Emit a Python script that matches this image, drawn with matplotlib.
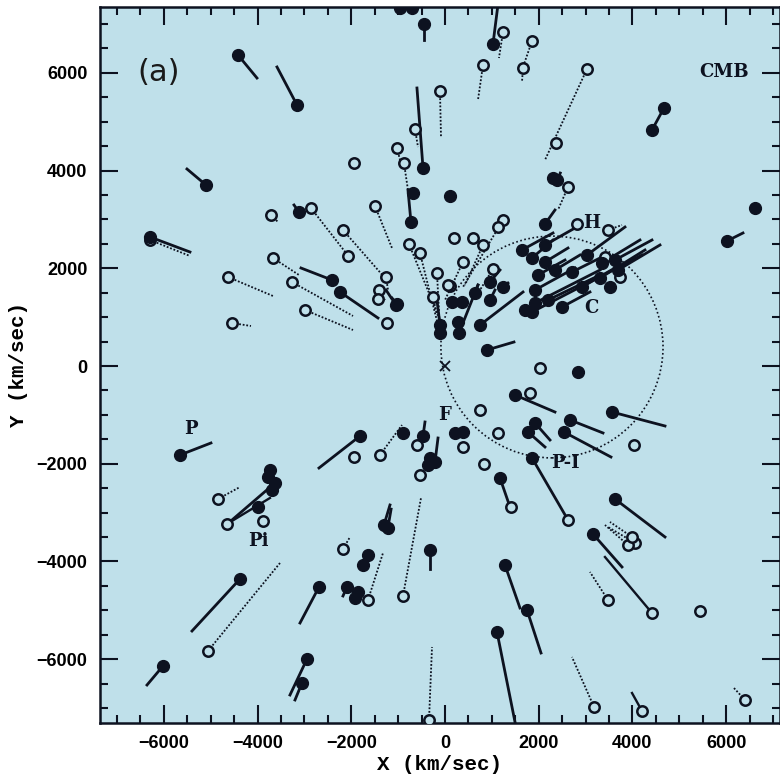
import matplotlib
matplotlib.use("Agg")
import matplotlib.pyplot as plt
from matplotlib.patches import Ellipse
from matplotlib.ticker import MultipleLocator

# galaxies with solid vectors (filled circles), km/sec
filled_x = [-4417, -3158, -5100, -6295, -3116, -2411, -2241, -1046, -726, -683, -469, -960, -704, -448, 1024,
            107, 2134, 2305, 2400, 4417, 4673, 6615, 6018,
            1643, 1857, 2134, 1985, 2347, 2710, 3030, 3350, 3628, 1921, 1857, 1921, 2497, 2924, 3521, 3308, 2198,
            2134, 1707, 3692,
            -107, -107, 277, 299, 149, 363, 640, 960, 960, 1238, 747, 896, -1024,
            2838, 1494, 3564, 2668, 2539, 1921, 1771, 1857, 213, 384, 1174, 3628, 3158, 1280, 1750, 1110, -320,
            -896, -469, -320, -213, -1302, -1220, -363,
            -5655, -1814, -3777, -3628, -3991, -3735, -3692, -4375, -6018, -2689, -2945, -3052,
            -1643, -1750, -2091, -1857, -1921]
filled_y = [6366, 5343, 3705, 2641, 3152, 1760, 1515, 1249, 2948, 3541, 4053, 7330, 7330, 7001, 6591,
            3480, 2907, 3848, 3800, 4831, 5281, 3234, 2559,
            2375, 2211, 2129, 1863, 1965, 1924, 2272, 2108, 2170, 1556, 1105, 1290, 1208, 1617, 1617, 1801, 1351,
            2477, 1146, 1965,
            839, 676, 901, 676, 1310, 1310, 1494, 1351, 1719, 1617, 839, 328, 1269,
            -123, -594, -942, -1105, -1351, -1167, -1351, -1883, -1371, -1351, -2293, -2723, -3439, -4074, -4995, -5445, -3766,
            -1371, -1433, -1883, -1965, -3255, -3320, -2027,
            -1822, -1433, -2272, -2395, -2886, -2129, -2538, -4360, -6141, -4524, -5998, -6489,
            -3869, -4074, -4524, -4626, -4749]
filled_xe = [-4012, -3585, -5506, -5442, -3222, -3073, -1430, -1259, -790, -683, -598, -960, -704, -448, 1131,
             107, 2347, 2305, 2460, 4673, 4673, 6615, 6359,
             2305, 2305, 2625, 2561, 2881, 3308, 3841, 4161, 4417, 2774, 4204, 3308, 3094, 3735, 3521, 4268, 3308,
             2774, 1707, 4588,
             -171, -107, 277, 704, 149, 363, 704, 1067, 1174, 1344, 1665, 1472, -1131,
             2838, 2347, 4695, 3372, 3542, 2241, 2134, 2625, 213, 384, 1387, 4695, 3777, 1600, 2049, 1494, -320,
             -896, -427, -320, -149, -1174, -1150, -363,
             -4994, -2689, -3777, -4545, -3991, -3735, -3692, -5399, -6359, -3094, -3308, -3201,
             -1643, -1750, -2177, -1857, -1921]
filled_ye = [5895, 6121, 4033, 2334, 3296, 2006, 983, 1556, 3603, 3541, 5691, 7330, 7330, 6673, 7400,
             3480, 3193, 3848, 3950, 5281, 5281, 3234, 2723,
             2723, 2579, 2415, 2170, 2272, 2211, 2845, 2579, 2579, 2006, 2272, 1965, 1515, 2067, 1617, 2375, 1863,
             2825, 1146, 2477,
             1351, 676, 901, 1658, 1310, 1310, 1658, 1556, 1965, 1699, 1515, 491, 1392,
             -123, -942, -1228, -1371, -1863, -1515, -1658, -3152, -1371, -1351, -2886, -3500, -4114, -4954, -5875, -7287, -4155,
             -1371, -1146, -1883, -1474, -2845, -2930, -2027,
             -1576, -2088, -2272, -3152, -2886, -2129, -2538, -5425, -6530, -5261, -6735, -6837,
             -3869, -4074, -4708, -4626, -4749]

# galaxies with dotted vectors (open circles), km/sec
open_x = [-6295, -107, -640, -1024, -875, -1942, 1238, 1857, 1665, 811, 3030, 2369, 2625, 2817, 3478, 3735, 3414,
          -3713, -2860, -2070, -2177, -1494, -4631, -3670, -3265, -2988, -4545, -1238, -1259, -1408, -1430,
          -768, -534, -171, -256, 107, 384, 598, 192, 811, 1024, 1238, 1131, 64,
          2027, 1814, 747, 4033, 384, 1131, 832, 1408, 2625, 4055, 3905, 3991, 3478, 5442, 3180, 6402,
          -896, -341, -598, -534, -1387, -1942, -4844, -3884, -2177, -1643, -5058]
open_y = [2579, 5629, 4851, 4462, 4155, 4155, 6837, 6653, 6100, 6161, 6080, 4565, 3664, 2907, 2784, 1822, 2231,
          3091, 3234, 2252, 2784, 3275, 1822, 2211, 1719, 1146, 880, 880, 1822, 1556, 1371,
          2497, 2313, 1904, 1412, 1638, 2129, 2620, 2620, 2477, 1986, 2989, 2845, 1658,
          -41, -553, -901, -1617, -1658, -1371, -2006, -2886, -3152, -3623, -3664, -3500, -4790, -5015, -6980, -6837,
          -4708, -7246, -1617, -2231, -1822, -1863, -2723, -3173, -3746, -4790, -5834]
open_xe = [-5442, -85, -576, -960, -790, -1942, 1152, 1665, 1643, 704, 2134, 2369, 2411, 2817, 3777, 3735, 3414,
           -3564, -1963, -2070, -1280, -1131, -3670, -3116, -1963, -1963, -4140, -1238, -1216, -1280, -1430,
           -107, -149, -107, -171, 107, 0, 598, 192, 427, 747, 384, 1131, 64,
           2027, 1814, 747, 4033, 384, 1131, 832, 1408, 2625, 3478, 3414, 3521, 3094, 5442, 2710, 6146,
           -512, -277, -598, -534, -918, -1942, -4375, -3884, -2027, -1323, -3521]
open_ye = [2252, 4688, 4483, 4217, 3603, 4155, 6305, 6121, 5813, 5445, 4217, 4565, 3193, 2907, 2886, 1822, 2231,
           2948, 2129, 2252, 1801, 2415, 1433, 1863, 1024, 737, 819, 880, 1556, 1351, 1371,
           942, 839, 737, 1044, 1638, 1351, 2620, 2620, 1658, 1556, 1617, 2845, 1658,
           -41, -553, -901, -1617, -1658, -1371, -2006, -2886, -3152, -3296, -3255, -3193, -4217, -5015, -5957, -6571,
           -2702, -5752, -1617, -2231, -1208, -1863, -2477, -3173, -3500, -3828, -4033]

# open circles whose vectors are drawn solid
open_solid_x = [4417, 4204, -4652]
open_solid_y = [-5056, -7062, -3234]
open_solid_xe = [3414, 3991, -3735]
open_solid_ye = [-3910, -6694, -2702]

# region labels
label_text = ["(a)", "CMB", "H", "C", "P", "Pi", "F", "P-I"]
label_x = [-6103, 5954, 3137, 3116, -5420, -3991, 0, 2561]
label_y = [6018, 6018, 2927, 1187, -1290, -3582, -1003, -1986]

ring_center = (2283, 389)
ring_size = (4740, 4540)

bg = "#bfe0ea"
ink = "#0d1220"

fig = plt.figure(figsize=(7.8, 7.78), dpi=100)
ax = fig.add_axes([0.1282, 0.0707, 0.8718, 0.9203])
ax.set_facecolor(bg)
ax.set_xlim(-7362, 7149)
ax.set_ylim(-7308, 7349)

# dotted ring
ax.add_patch(Ellipse(ring_center, ring_size[0], ring_size[1], fill=False, ec=ink,
                     lw=1.2, ls=(0, (1, 1.5)), zorder=1))

for x0, y0, x1, y1 in zip(open_x, open_y, open_xe, open_ye):
    ax.plot([x0, x1], [y0, y1], color=ink, lw=1.3, ls=(0, (1, 1)), zorder=2)
for x0, y0, x1, y1 in zip(open_solid_x, open_solid_y, open_solid_xe, open_solid_ye):
    ax.plot([x0, x1], [y0, y1], color=ink, lw=1.7, zorder=2)
for x0, y0, x1, y1 in zip(filled_x, filled_y, filled_xe, filled_ye):
    ax.plot([x0, x1], [y0, y1], color=ink, lw=2.0, zorder=2)

ax.plot(open_x + open_solid_x, open_y + open_solid_y, ls="none", marker="o", ms=7.5,
        mfc=bg, mec=ink, mew=1.8, zorder=3)
ax.plot(filled_x, filled_y, ls="none", marker="o", ms=8.5, mfc=ink, mec=ink, zorder=4)

# observer
ax.plot([0], [0], marker="x", ms=7, mew=1.3, color=ink, zorder=4)

for t, x, y in zip(label_text, label_x, label_y):
    if t == "(a)":
        ax.text(x, y, t, fontsize=22, family="DejaVu Sans", ha="center", va="center", color="#1a1a1a", zorder=5)
    else:
        ax.text(x, y, t, fontsize=13, family="DejaVu Serif", weight="bold", ha="center", va="center",
                color=ink, zorder=5)

ax.xaxis.set_major_locator(MultipleLocator(2000))
ax.xaxis.set_minor_locator(MultipleLocator(500))
ax.yaxis.set_major_locator(MultipleLocator(2000))
ax.yaxis.set_minor_locator(MultipleLocator(500))
ax.tick_params(which="both", direction="in", top=True, right=True, width=1.5, color=ink)
ax.tick_params(which="major", length=13, pad=9)
ax.tick_params(which="minor", length=6)
for lab in ax.get_xticklabels() + ax.get_yticklabels():
    lab.set_fontsize(13)
    lab.set_fontweight("bold")
    lab.set_family("Liberation Sans")
for s in ax.spines.values():
    s.set_linewidth(1.8)
    s.set_color(ink)

ax.set_xlabel("X (km/sec)", fontsize=15, family="Liberation Mono", weight="bold", labelpad=2)
ax.set_ylabel("Y (km/sec)", fontsize=15, family="Liberation Mono", weight="bold", labelpad=6)

fig.savefig("out.png", dpi=100, facecolor="white")
